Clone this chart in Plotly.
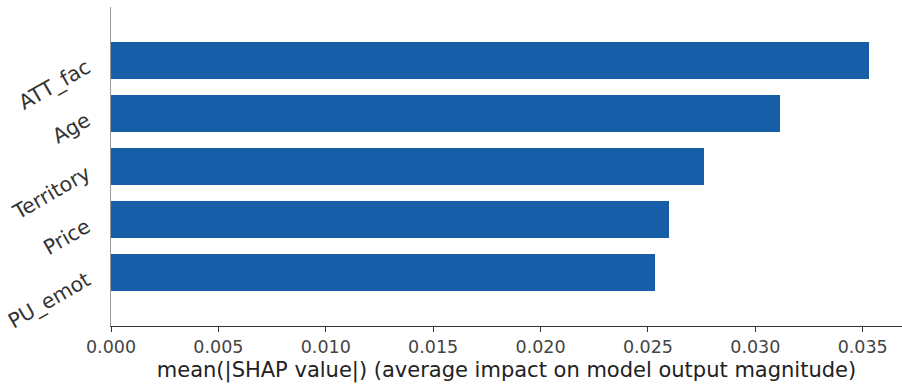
import plotly.graph_objects as go

# Mean absolute SHAP value per feature
features = ["PU_emot", "Price", "Territory", "Age", "ATT_fac"]
mean_abs_shap = [0.02535, 0.02596, 0.02759, 0.03117, 0.03529]
x_tick_vals = [0.000, 0.005, 0.010, 0.015, 0.020, 0.025, 0.030, 0.035]
x_tick_text = ["0.000", "0.005", "0.010", "0.015", "0.020", "0.025", "0.030", "0.035"]
x_title = "mean(|SHAP value|) (average impact on model output magnitude)"

positions = list(range(len(features)))

fig = go.Figure(
    go.Bar(
        x=mean_abs_shap,
        y=positions,
        orientation="h",
        width=0.7,
        marker=dict(color="#175ea8", line=dict(width=0)),
    )
)

font_family = "DejaVu Sans"
fig.update_layout(
    width=902,
    height=385,
    margin=dict(l=111, r=0, t=7, b=59),
    paper_bgcolor="white",
    plot_bgcolor="white",
    showlegend=False,
    font=dict(family=font_family, color="#333333"),
    bargap=0,
)
fig.update_xaxes(
    range=[0, 0.03683],
    tickvals=x_tick_vals,
    ticktext=x_tick_text,
    tickfont=dict(size=17.5, color="#444444"),
    showline=True,
    linecolor="#333333",
    linewidth=1.2,
    ticks="outside",
    ticklen=5,
    tickcolor="#333333",
    showgrid=False,
    zeroline=False,
    title=dict(text=x_title, font=dict(size=21, color="#222222"), standoff=6),
)
fig.update_yaxes(
    range=[-1, 5],
    tickvals=positions,
    ticktext=features,
    tickangle=-30,
    tickfont=dict(size=20.5, color="#333333"),
    ticklabelstandoff=19,
    ticklabelshift=5,
    showline=True,
    linecolor="#999999",
    linewidth=1,
    ticks="",
    showgrid=False,
    zeroline=False,
)

fig.write_html("out.html")
